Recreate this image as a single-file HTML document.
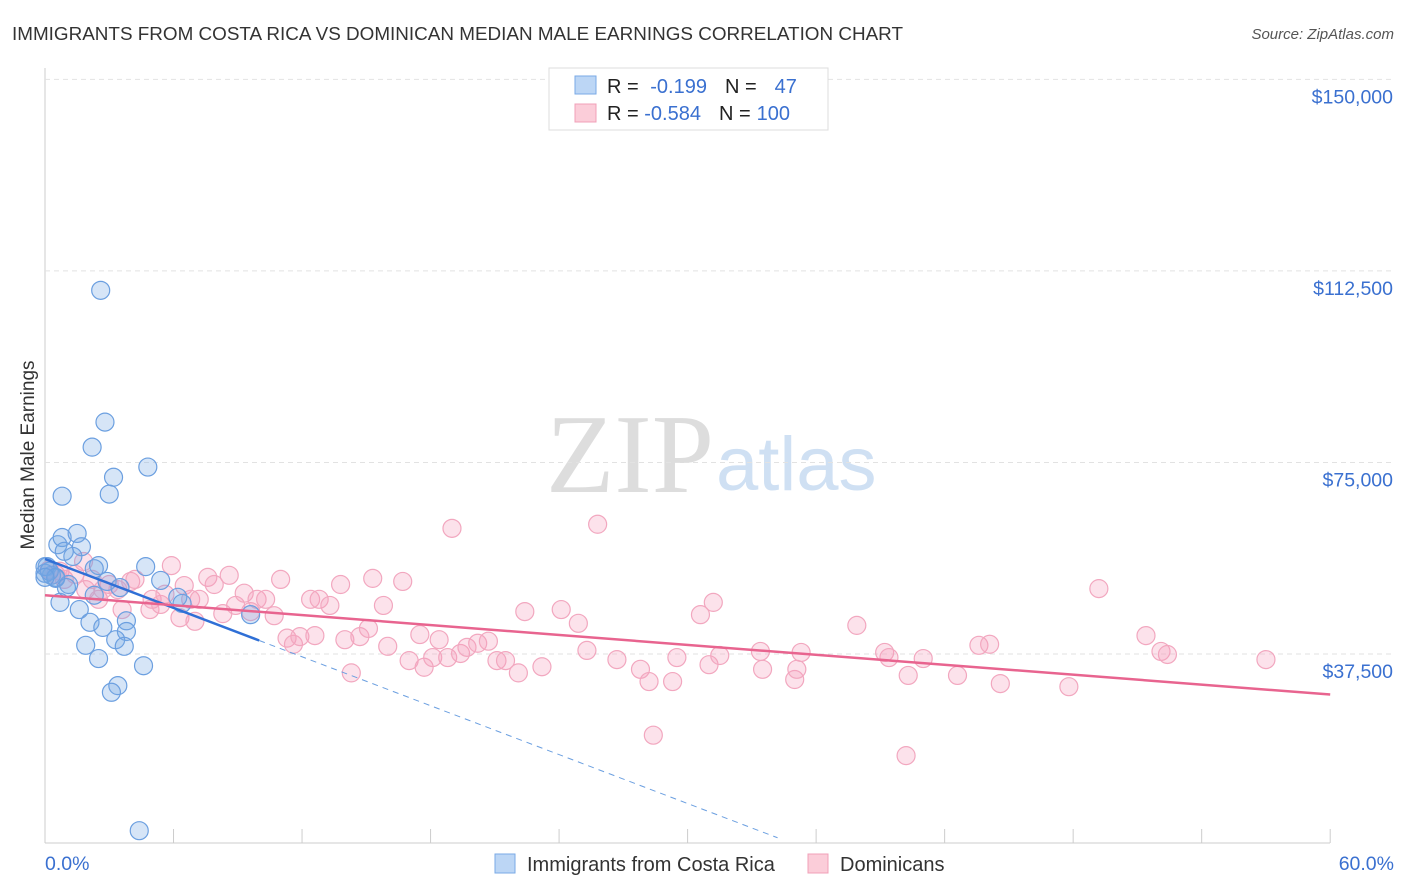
<!DOCTYPE html>
<html><head><meta charset="utf-8"><style>
body{margin:0;background:#fff;font-family:"Liberation Sans",sans-serif}
#c{position:absolute;left:0;top:0}
</style></head><body>
<svg id="c" width="1406" height="892">
<text x="12" y="40" font-size="18" fill="#333" textLength="891" lengthAdjust="spacingAndGlyphs">IMMIGRANTS FROM COSTA RICA VS DOMINICAN MEDIAN MALE EARNINGS CORRELATION CHART</text>
<text x="1394" y="39" font-size="15" fill="#555" font-style="italic" text-anchor="end">Source: ZipAtlas.com</text>
<text x="34" y="455" font-size="19" fill="#333" text-anchor="middle" transform="rotate(-90 34 455)">Median Male Earnings</text>
<text x="714" y="492" font-size="112" fill="#ddd" text-anchor="end" font-family="Liberation Serif,serif">ZIP</text>
<text x="716" y="490" font-size="76" fill="#cfe0f3">atlas</text>
<g id="grid"></g><g id="pts"></g><g id="lines"></g>
<g>
<rect x="549" y="68" width="279" height="62" fill="#fff" stroke="#ddd"/>
<rect x="575" y="76" width="21" height="18" fill="#bcd6f5" stroke="#7aaae6"/>
<rect x="575" y="104" width="21" height="18" fill="#fbcdd9" stroke="#f0a0b8"/>
<text x="607" y="93" font-size="20" fill="#222">R = <tspan fill="#3a70d0" dx="6">-0.199</tspan><tspan dx="18" fill="#222">N =</tspan><tspan dx="18" fill="#3a70d0">47</tspan></text>
<text x="607" y="120" font-size="20" fill="#222">R = <tspan fill="#3a70d0">-0.584</tspan><tspan dx="18" fill="#222">N =</tspan><tspan dx="6" fill="#3a70d0">100</tspan></text>
</g>
<text x="45" y="870" font-size="19.5" fill="#3a70d0">0.0%</text>
<text x="1394" y="870" font-size="19.5" fill="#3a70d0" text-anchor="end">60.0%</text>
<rect x="495" y="854" width="20" height="19" fill="#bcd6f5" stroke="#7aaae6"/>
<text x="527" y="871" font-size="20" fill="#333">Immigrants from Costa Rica</text>
<rect x="808" y="854" width="20" height="19" fill="#fbcdd9" stroke="#f0a0b8"/>
<text x="840" y="871" font-size="20" fill="#333">Dominicans</text>
</svg>
<script>
const yTicks=[37500,75000,112500,150000];
const yTickLabels=["$37,500","$75,000","$112,500","$150,000"];
const xTicks=[0,6,12,18,24,30,36,42,48,54,60];
const blueX=[2.6,2.8,2.2,4.8,3.2,0.8,3.0,0.6,0.8,1.5,1.7,1.3,0.9,0.1,0.3,0.5,0,2.5,2.3,1.1,2.3,2.9,0.7,3.5,4.7,5.4,6.2,6.4,1.6,2.1,2.7,3.8,3.8,3.3,3.7,1.9,2.5,4.6,3.4,3.1,9.6,4.4,0.2,0,0.5,1.0,0];
const blueY=[108.7,82.9,78.0,74.1,72.1,68.4,68.8,58.9,60.3,61.1,58.5,56.6,57.6,54.6,52.9,52.3,53.3,54.8,54.2,51.1,49.0,51.7,47.6,50.5,54.6,51.9,48.6,47.4,46.2,43.7,42.7,44.0,41.9,40.3,39.0,39.2,36.6,35.2,31.3,30.0,45.2,2.9,53.7,54.6,52.5,50.5,52.5];
const pinkX=[0.2,0.5,0.7,0.9,1.4,1.8,1.9,2.2,2.5,2.7,3.0,3.4,3.6,4.0,4.2,4.9,5.0,5.4,5.6,5.9,6.3,6.5,6.8,7.0,7.2,7.6,7.9,8.3,8.6,8.9,9.3,9.6,9.9,10.3,10.7,11.0,11.3,11.6,11.9,12.4,12.6,12.8,13.3,13.8,14.0,14.3,14.7,15.1,15.3,15.8,16.0,16.7,17.0,17.5,17.7,18.1,18.4,18.8,19.0,19.4,19.7,20.2,20.7,21.1,21.5,22.1,22.4,23.2,24.1,24.9,25.3,25.8,26.7,27.8,28.2,28.4,29.3,29.5,30.6,31.0,31.2,31.5,33.4,33.5,35.0,35.1,35.3,37.9,39.2,39.4,40.3,40.2,41.0,42.6,43.6,44.1,44.6,47.8,49.2,51.4,52.1,52.4,57.0];
const pinkY=[54.0,53.1,53.7,52.1,53.1,55.6,50.1,52.1,48.2,50.1,51.1,50.1,46.2,51.7,52.1,46.2,48.2,47.2,49.2,54.8,44.6,50.9,48.2,43.9,48.2,52.5,51.1,45.4,52.9,47.0,49.4,45.8,48.2,48.2,45.0,52.1,40.6,39.4,40.9,48.2,41.1,48.2,47.0,51.1,40.3,33.8,40.9,42.5,52.3,47.0,39.0,51.7,36.2,41.3,34.9,36.8,40.3,36.8,62.1,37.6,38.8,39.6,40.0,36.2,36.2,33.8,45.8,35.0,46.2,43.5,38.2,62.9,36.4,34.5,32.1,21.6,32.1,36.8,45.2,35.4,47.6,37.2,38.0,34.5,32.5,34.5,37.8,43.1,37.8,36.8,33.3,17.6,36.6,33.3,39.2,39.4,31.7,31.1,50.3,41.1,38.0,37.4,36.4];
const blueLine={x0:0,x1:10,x2:34.2,y0:56.1,slope:-1.596};
const pinkLine={x0:0,x1:60,y0:49.0,slope:-0.324};
const X=v=>45+v*21.42, Y=v=>845.5-v*1000/195.8;
const NS="http://www.w3.org/2000/svg";
function mk(t,a,p){const e=document.createElementNS(NS,t);for(const k in a)e.setAttribute(k,a[k]);p.appendChild(e);return e;}
const grid=document.getElementById('grid');
mk('line',{x1:45,y1:68,x2:45,y2:843,stroke:'#ccc'},grid);
mk('line',{x1:45,y1:843,x2:1330,y2:843,stroke:'#ccc'},grid);
yTicks.forEach((t,i)=>{
 const l=mk('line',{x1:45,x2:1394,y1:Y(t/1000),y2:Y(t/1000),stroke:'#e2e2e2','stroke-dasharray':'5,4'},grid);
 
 
 const tx=mk('text',{x:1393,y:Y(t/1000)+24,'font-size':19.5,fill:'#3a70d0','text-anchor':'end'},grid);
 tx.textContent=yTickLabels[i];
 
 
});
xTicks.forEach(t=>{
 const l=mk('line',{x1:X(t),x2:X(t),y1:829,y2:843,stroke:'#ccc'},grid);
 
 
});
const pts=document.getElementById('pts');
pinkX.forEach((x,i)=>{
 const c=mk('circle',{cx:X(x),cy:Y(pinkY[i]),r:9,fill:'rgba(244,160,188,0.3)',stroke:'#f2a7bf','stroke-width':1.2},pts);
 
 
});
blueX.forEach((x,i)=>{
 const c=mk('circle',{cx:X(x),cy:Y(blueY[i]),r:9,fill:'rgba(120,170,230,0.3)',stroke:'#6b9fe0','stroke-width':1.2},pts);
 
 
});
const lines=document.getElementById('lines');
const bl=v=>blueLine.y0+blueLine.slope*v, pl=v=>pinkLine.y0+pinkLine.slope*v;
let a=mk('line',{x1:X(blueLine.x0),y1:Y(bl(blueLine.x0)),x2:X(blueLine.x1),y2:Y(bl(blueLine.x1)),stroke:'#2f6fd6','stroke-width':2.5},lines);


a=mk('line',{x1:X(blueLine.x1),y1:Y(bl(blueLine.x1)),x2:X(blueLine.x2),y2:Y(bl(blueLine.x2)),stroke:'#6b9fe0','stroke-width':1,'stroke-dasharray':'6,5'},lines);


a=mk('line',{x1:X(pinkLine.x0),y1:Y(pl(pinkLine.x0)),x2:X(pinkLine.x1),y2:Y(pl(pinkLine.x1)),stroke:'#e8648f','stroke-width':2.5},lines);


</script>
</body></html>
